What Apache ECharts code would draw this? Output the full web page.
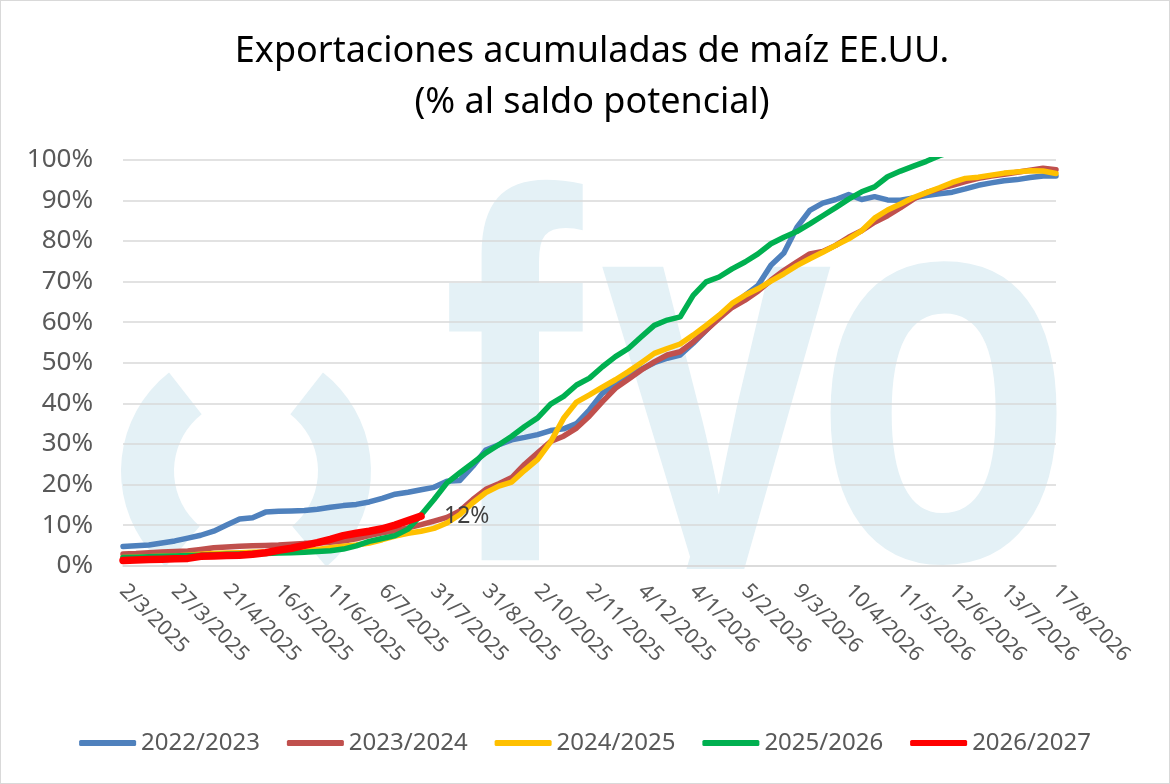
<!DOCTYPE html>
<html>
<head>
<meta charset="utf-8">
<script src="https://cdn.jsdelivr.net/npm/echarts@6/dist/echarts.min.js"></script>
<style>
  html, body { margin: 0; padding: 0; background: #fff; }
  #main { width: 1170px; height: 784px; box-sizing: border-box; border: 1px solid #d9d9d9; }
</style>
</head>
<body>
<div id="main"></div>
<script>
// fechas (eje X), etiqueta visible cada 4 semanas
var categories = [
  '2/3/2025', '8/3/2025', '14/3/2025', '21/3/2025',
  '27/3/2025', '2/4/2025', '8/4/2025', '15/4/2025',
  '21/4/2025', '27/4/2025', '3/5/2025', '10/5/2025',
  '16/5/2025', '22/5/2025', '29/5/2025', '4/6/2025',
  '11/6/2025', '17/6/2025', '23/6/2025', '30/6/2025',
  '6/7/2025', '12/7/2025', '18/7/2025', '25/7/2025',
  '31/7/2025', '8/8/2025', '16/8/2025', '23/8/2025',
  '31/8/2025', '8/9/2025', '16/9/2025', '24/9/2025',
  '2/10/2025', '10/10/2025', '18/10/2025', '25/10/2025',
  '2/11/2025', '10/11/2025', '18/11/2025', '26/11/2025',
  '4/12/2025', '12/12/2025', '20/12/2025', '27/12/2025',
  '4/1/2026', '12/1/2026', '20/1/2026', '28/1/2026',
  '5/2/2026', '13/2/2026', '21/2/2026', '1/3/2026',
  '9/3/2026', '17/3/2026', '25/3/2026', '2/4/2026',
  '10/4/2026', '18/4/2026', '26/4/2026', '3/5/2026',
  '11/5/2026', '19/5/2026', '27/5/2026', '4/6/2026',
  '12/6/2026', '20/6/2026', '28/6/2026', '5/7/2026',
  '13/7/2026', '22/7/2026', '31/7/2026', '9/8/2026',
  '17/8/2026'
];

var camp2223 = [
  4.7, 4.9, 5.1, 5.6, 6.1, 6.8, 7.5, 8.5, 10.0, 11.5, 11.8, 13.2,
  13.4, 13.5, 13.6, 13.9, 14.4, 14.8, 15.1, 15.7, 16.6, 17.6, 18.1, 18.7,
  19.3, 20.8, 21.0, 24.5, 28.5, 29.8, 31.0, 31.6, 32.3, 33.3, 33.7, 35.0,
  38.4, 42.5, 44.5, 46.7, 48.4, 50.0, 51.1, 51.9, 54.8, 58.0, 61.3, 64.1,
  66.6, 69.0, 74.0, 77.0, 83.3, 87.5, 89.3, 90.2, 91.4, 90.2, 90.9, 90.1,
  90.0, 90.6, 91.2, 91.6, 92.0, 92.8, 93.7, 94.3, 94.8, 95.1, 95.6, 96.0,
  96.0
];

var camp2324 = [
  2.9, 3.0, 3.2, 3.4, 3.5, 3.6, 4.0, 4.4, 4.6, 4.8, 4.9, 5.0,
  5.1, 5.3, 5.5, 5.6, 5.8, 6.1, 6.6, 7.4, 8.1, 8.6, 9.3, 10.1,
  11.0, 11.9, 13.5, 16.3, 18.8, 20.2, 21.7, 25.0, 27.8, 30.6, 31.9, 33.9,
  36.9, 40.4, 43.7, 45.9, 48.2, 50.2, 51.9, 52.7, 55.1, 58.0, 60.9, 63.6,
  65.4, 67.6, 70.3, 72.7, 74.8, 76.8, 77.4, 78.9, 80.9, 82.5, 84.6, 86.2,
  88.2, 90.3, 91.9, 92.9, 93.7, 94.6, 95.4, 96.0, 96.4, 96.9, 97.4, 97.9,
  97.5
];

var camp2425 = [
  2.0, 2.1, 2.2, 2.3, 2.4, 2.6, 2.8, 3.0, 3.1, 3.2, 3.3, 3.4,
  3.5, 3.6, 3.8, 4.0, 4.4, 4.8, 5.1, 5.6, 6.4, 7.3, 8.0, 8.5,
  9.2, 10.5, 12.6, 15.5, 18.0, 19.6, 20.6, 23.5, 26.2, 30.5, 36.3, 40.3,
  42.1, 44.0, 45.8, 47.8, 50.0, 52.3, 53.5, 54.6, 56.8, 59.2, 61.7, 64.6,
  66.6, 68.2, 70.1, 71.9, 73.9, 75.6, 77.2, 78.9, 80.5, 82.5, 85.6, 87.6,
  89.1, 90.7, 91.9, 93.1, 94.4, 95.4, 95.7, 96.2, 96.7, 97.0, 97.3, 97.2,
  96.6
];

var camp2526 = [
  2.0, 2.1, 2.2, 2.3, 2.4, 2.5, 2.6, 2.7, 2.8, 2.9, 3.0, 3.0,
  3.1, 3.2, 3.3, 3.5, 3.7, 4.1, 4.9, 6.0, 6.7, 7.4, 9.0, 12.5,
  16.3, 20.4, 22.9, 25.3, 27.8, 29.8, 31.9, 34.3, 36.4, 39.8, 41.7, 44.5,
  46.2, 49.0, 51.5, 53.5, 56.4, 59.2, 60.5, 61.3, 66.6, 69.9, 71.1, 73.1,
  74.8, 76.8, 79.3, 80.9, 82.3, 84.2, 86.2, 88.2, 90.3, 92.1, 93.3, 95.8,
  97.2, 98.4, 99.6, 101.0, 102.0
];

var camp2627 = [
  1.3, 1.4, 1.5, 1.6, 1.7, 1.8, 2.3, 2.4, 2.5, 2.6, 2.8, 3.2,
  3.8, 4.3, 5.0, 5.7, 6.5, 7.4, 8.0, 8.5, 9.1, 10.0, 11.1, 12.2
];

var yTicks = [0, 10, 20, 30, 40, 50, 60, 70, 80, 90, 100];

var fuente = '"Noto Sans", "DejaVu Sans", sans-serif';
var marca = '#e4f1f6';
var fuenteMarca = 'bold 420px "Liberation Sans", Arial, sans-serif';

function serie(nombre, datos, color, ancho) {
    return {
        name: nombre,
        type: 'line',
        data: datos,
        symbol: 'none',
        smooth: false,
        clip: true,
        lineStyle: { color: color, width: ancho, cap: 'round', join: 'round' },
        itemStyle: { color: color }
    };
}

var series = [
    serie('2022/2023', camp2223, '#4f81bd', 5.5),
    serie('2023/2024', camp2324, '#c0504d', 5.5),
    serie('2024/2025', camp2425, '#ffc000', 5.5),
    serie('2025/2026', camp2526, '#00b050', 5.5),
    serie('2026/2027', camp2627, '#ff0000', 7.5)
];
series[4].endLabel = {
    show: true,
    distance: 23,
    formatter: function (p) { return Math.round(p.value) + '%'; },
    fontFamily: fuente,
    fontSize: 23,
    color: '#404040'
};

var option = {
    backgroundColor: '#ffffff',
    animation: false,
    title: {
        text: 'Exportaciones acumuladas de maíz EE.UU.\n(% al saldo potencial)',
        left: 586,
        top: 20,
        textAlign: 'center',
        textStyle: {
            fontFamily: fuente,
            fontSize: 36,
            fontWeight: 'normal',
            color: '#000000',
            lineHeight: 51,
            align: 'center'
        }
    },
    // marca de agua "fyo" detrás del área de trazado
    graphic: [
        { type: 'sector', z: -10, silent: true,
          shape: { cx: 245, cy: 470, r: 125, r0: 72, startAngle: 130 * Math.PI / 180, endAngle: 232 * Math.PI / 180 },
          style: { fill: marca } },
        { type: 'sector', z: -10, silent: true,
          shape: { cx: 245, cy: 470, r: 125, r0: 72, startAngle: -52 * Math.PI / 180, endAngle: 50 * Math.PI / 180 },
          style: { fill: marca } },
        { type: 'text', z: -10, silent: true, x: 441, y: 677, scaleX: 1.0, scaleY: 1.25,
          style: { text: 'f', font: fuenteMarca, fill: marca, verticalAlign: 'bottom' } },
        { type: 'text', z: -10, silent: true, x: 598, y: 683, scaleX: 1.0, scaleY: 1.32,
          style: { text: 'y', font: fuenteMarca, fill: marca, verticalAlign: 'bottom' } },
        { type: 'text', z: -10, silent: true, x: 813, y: 683, scaleX: 1.01, scaleY: 1.32,
          style: { text: 'o', font: fuenteMarca, fill: marca, verticalAlign: 'bottom' } },
        // tapa lo que sobresale fuera del área de trazado
        { type: 'rect', z: -5, silent: true,
          shape: { x: 1, y: 568, width: 1168, height: 215 },
          style: { fill: '#ffffff' } },
        { type: 'rect', z: -5, silent: true,
          shape: { x: 1, y: 1, width: 1168, height: 156 },
          style: { fill: '#ffffff' } }
    ],
    legend: {
        data: ['2022/2023', '2023/2024', '2024/2025', '2025/2026', '2026/2027'],
        left: 'center',
        top: 725,
        icon: 'roundRect',
        itemWidth: 57,
        itemHeight: 6,
        itemGap: 27,
        textStyle: { fontFamily: fuente, fontSize: 24, color: '#595959' }
    },
    grid: {
        left: 122,
        right: 113,
        top: 158.7,
        bottom: 217.3,
        containLabel: false
    },
    xAxis: {
        type: 'category',
        data: categories,
        boundaryGap: false,
        axisLine: { show: true, lineStyle: { color: '#d9d9d9', width: 1.5 } },
        axisTick: { show: false },
        axisLabel: {
            interval: 3,
            rotate: -45,
            margin: 22,
            fontFamily: fuente,
            fontSize: 21,
            color: '#595959'
        },
        splitLine: { show: false }
    },
    yAxis: {
        type: 'value',
        min: yTicks[0],
        max: yTicks[yTicks.length - 1],
        interval: 10,
        axisLine: { show: false },
        axisTick: { show: false },
        axisLabel: {
            margin: 30,
            fontFamily: fuente,
            fontSize: 26,
            color: '#595959',
            formatter: '{value}%'
        },
        splitLine: { lineStyle: { color: '#d9d9d9', width: 1.5 } }
    },
    series: series
};

var chart = echarts.init(document.getElementById('main'));
chart.setOption(option);
</script>
</body>
</html>
